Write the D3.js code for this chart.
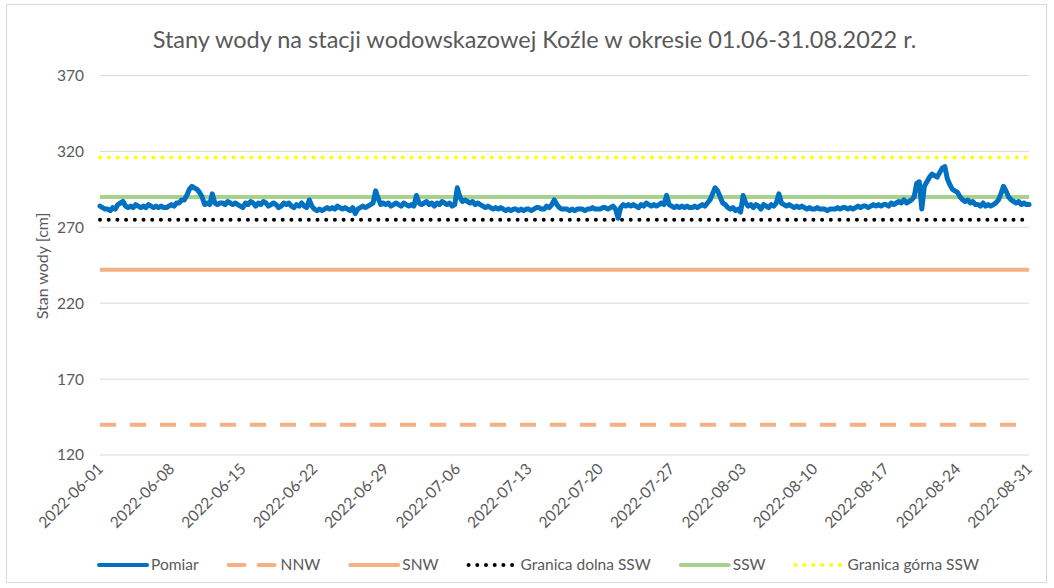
<!DOCTYPE html>
<html>
<head>
<meta charset="utf-8">
<script src="https://cdn.jsdelivr.net/npm/d3@7"></script>
<style>
  body { margin: 0; background: #fff; }
  text { font-family: Lato, "Open Sans", sans-serif; fill: #595959; }
</style>
</head>
<body>
<svg id="chart"></svg>
<script>
const titleText = "Stany wody na stacji wodowskazowej Koźle w okresie 01.06-31.08.2022 r.";
const yLabel = "Stan wody [cm]";
const yTicks = [120, 170, 220, 270, 320, 370];
const xTickLabels = ["2022-06-01", "2022-06-08", "2022-06-15", "2022-06-22", "2022-06-29",
    "2022-07-06", "2022-07-13", "2022-07-20", "2022-07-27", "2022-08-03", "2022-08-10",
    "2022-08-17", "2022-08-24", "2022-08-31"];

// Pomiar: readings every 6 h starting 2022-06-01 00:00
const pomiarStart = "2022-06-01";
const pomiarStepHours = 6;
const pomiar = [
    284, 283, 282, 282,  281, 283, 282, 285,  286, 287, 284, 283,  284, 283, 285, 284,
    283, 284, 283, 285,  284, 283, 284, 283,  284, 283, 283, 284,  285, 284, 286, 286,
    288, 288, 291, 295,  297, 296, 295, 293,  290, 285, 286, 285,  292, 286, 285, 286,
    286, 285, 287, 286,  285, 286, 285, 284,  283, 286, 285, 287,  286, 284, 286, 285,
    287, 286, 284, 285,  286, 285, 283, 284,  286, 285, 286, 284,  283, 285, 284, 286,
    284, 283, 288, 284,  282, 281, 282, 281,  282, 283, 282, 283,  282, 284, 283, 282,
    283, 282, 281, 283,  279, 282, 283, 284,  283, 284, 285, 286,  294, 289, 285, 286,
    285, 286, 284, 285,  286, 285, 284, 286,  285, 284, 285, 284,  291, 286, 285, 286,
    287, 285, 286, 284,  286, 285, 287, 286,  285, 286, 284, 285,  296, 290, 287, 288,
    287, 286, 287, 285,  286, 285, 284, 283,  284, 283, 282, 283,  282, 283, 282, 281,
    282, 281, 282, 282,  281, 282, 281, 282,  282, 281, 282, 283,  283, 282, 282, 284,
    283, 285, 288, 285,  283, 282, 282, 282,  281, 282, 281, 282,  282, 282, 281, 282,
    282, 283, 282, 282,  282, 283, 283, 282,  283, 284, 282, 276,  283, 285, 284, 285,
    284, 285, 284, 283,  285, 284, 286, 285,  284, 285, 284, 285,  286, 285, 291, 285,
    284, 283, 284, 283,  284, 283, 284, 283,  283, 284, 283, 284,  285, 284, 286, 288,
    292, 296, 294, 290,  286, 285, 283, 282,  283, 281, 282, 280,  291, 286, 284, 285,
    283, 285, 284, 282,  285, 284, 283, 285,  284, 286, 292, 286,  285, 284, 285, 284,
    283, 284, 283, 284,  283, 282, 283, 282,  282, 283, 282, 282,  282, 281, 282, 282,
    282, 283, 282, 283,  283, 282, 283, 282,  283, 284, 283, 284,  284, 283, 284, 285,
    284, 285, 284, 285,  285, 284, 286, 285,  286, 287, 286, 288,  286, 287, 288, 290,
    299, 300, 282, 297,  300, 303, 305, 304,  303, 306, 309, 310,  302, 298, 295, 294,
    293, 290, 288, 287,  288, 286, 287, 285,  285, 284, 286, 284,  285, 284, 285, 286,
    288, 292, 297, 294,  290, 288, 287, 286,  287, 285, 286, 285,  285
];

const refNames = ["NNW", "SNW", "Granica dolna SSW", "SSW", "Granica górna SSW"];
const refValues = [140, 242, 275, 290, 316];

const width = 1054, height = 588;
const plot = { left: 100, right: 1029, top: 75.5, bottom: 455 };
const fontSize = "15.5px";

const styles = {
    "Pomiar": { color: "#0070C0", width: 5, dash: null, cap: "round" },
    "NNW": { color: "#F4B183", width: 4, dash: "16,14", cap: "butt" },
    "SNW": { color: "#F4B183", width: 4, dash: null, cap: "butt" },
    "Granica dolna SSW": { color: "#000000", width: 4, dash: "0,8.7", cap: "round" },
    "SSW": { color: "#A9D18E", width: 4, dash: null, cap: "butt" },
    "Granica górna SSW": { color: "#FFFF00", width: 4, dash: "0,8.9", cap: "round" }
};

const svg = d3.select("#chart").attr("width", width).attr("height", height);

svg.append("rect")
    .attr("x", 6.5).attr("y", 4.5)
    .attr("width", 1040).attr("height", 578)
    .attr("fill", "#fff").attr("stroke", "#D9D9D9");

const parse = d3.utcParse("%Y-%m-%d");
const t0 = parse(pomiarStart);
const data = pomiar.map((v, i) => ({ date: d3.utcHour.offset(t0, i * pomiarStepHours), value: v }));

const x = d3.scaleUtc()
    .domain([parse(xTickLabels[0]), parse(xTickLabels[xTickLabels.length - 1])])
    .range([plot.left, plot.right]);
const y = d3.scaleLinear().domain([120, 370]).range([plot.bottom, plot.top]);

// gridlines
svg.append("g")
    .selectAll("line")
    .data(yTicks)
    .join("line")
    .attr("x1", plot.left).attr("x2", plot.right)
    .attr("y1", d => y(d)).attr("y2", d => y(d))
    .attr("stroke", "#D9D9D9").attr("stroke-width", 1);

// y axis labels
svg.append("g")
    .selectAll("text")
    .data(yTicks)
    .join("text")
    .attr("x", 84).attr("y", d => y(d))
    .attr("dy", "0.35em")
    .attr("text-anchor", "end")
    .style("font-size", fontSize)
    .text(d => d);

svg.append("text")
    .attr("transform", "translate(48, 266) rotate(-90)")
    .attr("text-anchor", "middle")
    .style("font-size", "16px")
    .text(yLabel);

// x axis labels
svg.append("g")
    .selectAll("text")
    .data(xTickLabels)
    .join("text")
    .attr("transform", d => `translate(${x(parse(d)) + 4}, 470) rotate(-45)`)
    .attr("text-anchor", "end")
    .style("font-size", fontSize)
    .text(d => d);

// reference lines
const refs = refNames.map((n, i) => ({ name: n, value: refValues[i] }));
svg.append("g")
    .selectAll("line")
    .data(refs)
    .join("line")
    .attr("x1", plot.left).attr("x2", plot.right)
    .attr("y1", d => y(d.value)).attr("y2", d => y(d.value))
    .attr("stroke", d => styles[d.name].color)
    .attr("stroke-width", d => styles[d.name].width)
    .attr("stroke-dasharray", d => styles[d.name].dash)
    .attr("stroke-linecap", d => styles[d.name].cap);

// pomiar line
const line = d3.line().x(d => x(d.date)).y(d => y(d.value));
svg.append("path")
    .datum(data)
    .attr("d", line)
    .attr("fill", "none")
    .attr("stroke", styles["Pomiar"].color)
    .attr("stroke-width", styles["Pomiar"].width)
    .attr("stroke-linejoin", "round")
    .attr("stroke-linecap", "round");

// title
svg.append("text")
    .attr("x", 534.5).attr("y", 48)
    .attr("text-anchor", "middle")
    .style("font-size", "23.5px")
    .text(titleText);

// legend
const legendNames = ["Pomiar"].concat(refNames);
const legend = svg.append("g");
let lx = 0;
legendNames.forEach(n => {
    const s = styles[n];
    const g = legend.append("g").attr("transform", `translate(${lx}, 0)`);
    g.append("line")
        .attr("x1", 2).attr("x2", 50)
        .attr("stroke", s.color)
        .attr("stroke-width", s.dash && s.cap === "round" ? s.width : 4)
        .attr("stroke-dasharray", s.dash)
        .attr("stroke-linecap", "round");
    const t = g.append("text")
        .attr("x", 54).attr("dy", "0.35em")
        .style("font-size", fontSize)
        .text(n);
    lx += 54 + t.node().getComputedTextLength() + 28;
});
const legendWidth = lx - 28;
legend.attr("transform", `translate(${538 - legendWidth / 2}, 565)`);
</script>
</body>
</html>
